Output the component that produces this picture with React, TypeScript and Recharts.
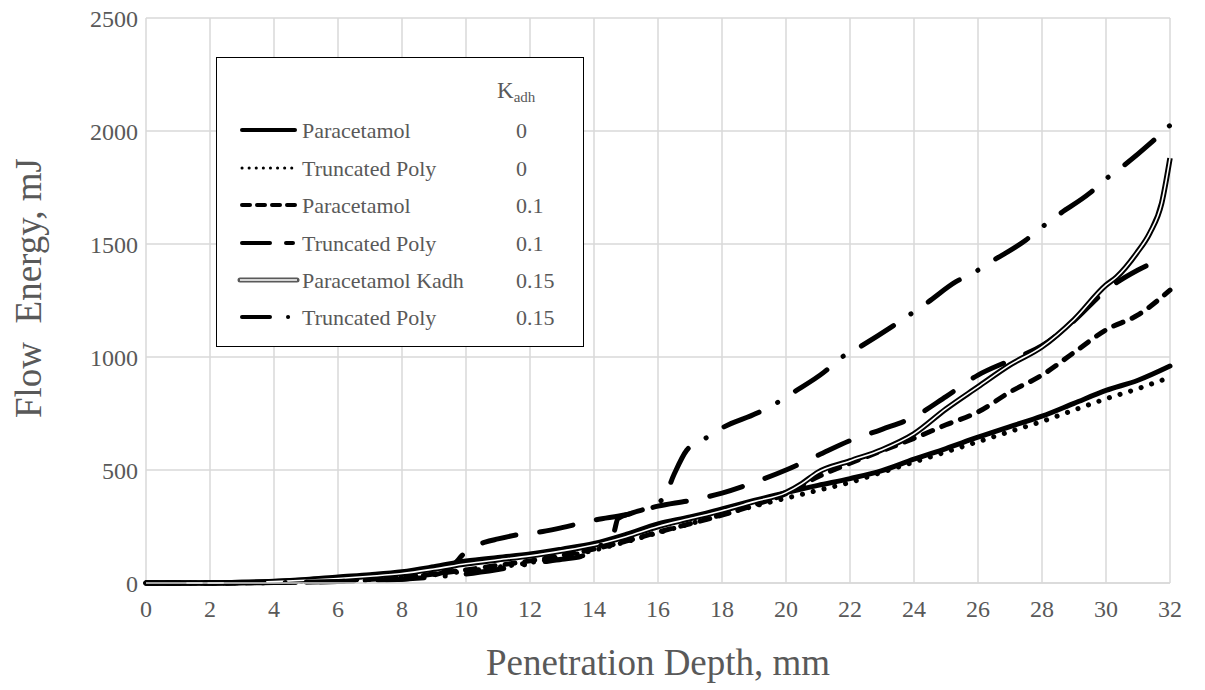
import React from 'react';
import { LineChart, Line, XAxis, YAxis, CartesianGrid } from 'recharts';

const FONT = '"Liberation Serif", "Times New Roman", serif';
const TEXT = '#595959';
const GRID = '#d9d9d9';

// Axis ticks
const depthTicks = [0, 2, 4, 6, 8, 10, 12, 14, 16, 18, 20, 22, 24, 26, 28, 30, 32];
const energyTicks = [0, 500, 1000, 1500, 2000, 2500];

// Paracetamol, Kadh = 0
const paracetamol0Depth = [0, 1, 2, 3, 4, 5, 6, 7, 8, 9, 10, 11, 12, 13, 14, 15, 16, 17, 18, 19, 20, 21, 22, 23, 24, 25, 26, 27, 28, 29, 30, 31, 32];
const paracetamol0Energy = [0, 0, 1, 3, 8, 16, 27, 37, 50, 72, 97, 113, 128, 150, 175, 215, 262, 292, 328, 365, 400, 432, 462, 497, 548, 595, 645, 692, 738, 795, 852, 897, 960];

// Truncated Poly, Kadh = 0
const truncPoly0Depth = [0, 1, 2, 3, 4, 5, 6, 7, 8, 9, 10, 11, 12, 13, 14, 15, 16, 17, 18, 19, 20, 21, 22, 23, 24, 25, 26, 27, 28, 29, 30, 31, 32];
const truncPoly0Energy = [0, 0, 0, 1, 3, 7, 12, 18, 26, 38, 52, 70, 90, 115, 145, 182, 222, 262, 302, 340, 375, 410, 445, 490, 535, 580, 625, 670, 715, 765, 815, 860, 910];

// Paracetamol, Kadh = 0.1
const paracetamol01Depth = [0, 1, 2, 3, 4, 5, 6, 7, 8, 9, 10, 11, 12, 13, 14, 15, 16, 17, 18, 19, 20, 21, 22, 23, 24, 25, 26, 27, 28, 29, 30, 31, 32];
const paracetamol01Energy = [0, 0, 0, 1, 3, 6, 10, 16, 25, 40, 58, 78, 98, 122, 150, 185, 225, 262, 300, 345, 395, 470, 530, 585, 640, 700, 757, 845, 920, 1020, 1120, 1186, 1296];

// Truncated Poly, Kadh = 0.1
const truncPoly01Depth = [0, 2, 3, 4, 5, 6, 7, 8, 9, 9.4, 10.1, 10.6, 11, 11.75, 12.4, 13, 13.6, 14, 15, 16, 17, 18, 19, 20, 21, 22, 23, 24, 25, 26, 27, 28, 29, 30, 31, 31.75];
const truncPoly01Energy = [0, 0, 1, 2, 4, 7, 11, 17, 35, 55, 150, 181, 195, 217, 228, 245, 265, 278, 302, 340, 365, 398, 445, 500, 565, 630, 680, 735, 825, 920, 985, 1050, 1160, 1295, 1385, 1435];

// Paracetamol Kadh = 0.15
const paracetamolKadhDepth = [0, 2, 3, 4, 5, 6, 7, 8, 9, 10, 11, 12, 13, 14, 15, 16, 17, 18, 19, 20, 20.5, 21, 22, 23, 24, 25, 26, 27, 28, 29, 30, 30.33, 30.96, 31.37, 31.74, 32];
const paracetamolKadhEnergy = [0, 0, 2, 6, 12, 20, 30, 42, 62, 85, 103, 120, 142, 168, 205, 250, 285, 320, 360, 400, 440, 490, 540, 590, 660, 770, 868, 965, 1045, 1165, 1318, 1354, 1460, 1549, 1681, 1880];

// Truncated Poly, Kadh = 0.15
const truncPoly015Depth = [0, 2, 3, 4, 5, 6, 7, 8, 9, 10, 11, 12, 13, 13.6, 14, 14.6, 14.75, 15.2, 16, 16.2, 16.5, 16.9, 17.4, 18, 19.1, 19.7, 20.2, 21.2, 21.7, 22.3, 23.3, 23.8, 24.4, 25.3, 25.9, 26.5, 27.5, 28, 28.5, 29.5, 30, 30.5, 31.4, 31.9, 32];
const truncPoly015Energy = [0, 0, 1, 2, 4, 7, 11, 17, 27, 40, 60, 85, 105, 118, 150, 215, 285, 310, 355, 380, 480, 588, 633, 686, 752, 796, 841, 934, 995, 1044, 1133, 1181, 1239, 1332, 1376, 1429, 1518, 1575, 1628, 1726, 1788, 1841, 1947, 2013, 2025];

const toPoints = (depth: number[], energy: number[]) =>
  depth.map((d, i) => ({ depth: d, energy: energy[i] }));

const LINE_W = 5;
const DOTTED = '0.1 11';
const SHORT_DASH = '10 10';
const LONG_DASH = '34 24';
const DASH_DOT = '38 21 0.1 21';

type Style = { dash?: string; legendDash?: string; double?: boolean };

const series: { name: string; kadh: string; depth: number[]; energy: number[]; style: Style }[] = [
  { name: 'Paracetamol', kadh: '0', depth: paracetamol0Depth, energy: paracetamol0Energy, style: {} },
  { name: 'Truncated Poly', kadh: '0', depth: truncPoly0Depth, energy: truncPoly0Energy, style: { dash: DOTTED, legendDash: '0.1 7' } },
  { name: 'Paracetamol', kadh: '0.1', depth: paracetamol01Depth, energy: paracetamol01Energy, style: { dash: SHORT_DASH, legendDash: '8 7' } },
  { name: 'Truncated Poly', kadh: '0.1', depth: truncPoly01Depth, energy: truncPoly01Energy, style: { dash: LONG_DASH, legendDash: '28 16 7 100' } },
  { name: 'Paracetamol Kadh', kadh: '0.15', depth: paracetamolKadhDepth, energy: paracetamolKadhEnergy, style: { double: true } },
  { name: 'Truncated Poly', kadh: '0.15', depth: truncPoly015Depth, energy: truncPoly015Energy, style: { dash: DASH_DOT, legendDash: '28 18 0.1 100' } },
];

const tickStyle = { fill: TEXT, fontSize: 24, fontFamily: FONT };

function LegendBox() {
  const x0 = 240;
  const x1 = 297;
  const rowY = [130, 168, 205, 243, 280, 317];
  return (
    <g>
      <rect x={216.5} y={57.5} width={367} height={289} fill="#fff" stroke="#000" strokeWidth={1} />
      <text x={497} y={98} fill={TEXT} fontFamily={FONT} fontSize={23}>
        K
        <tspan fontSize={15} dy={4}>adh</tspan>
      </text>
      {series.map((s, i) => {
        const y = rowY[i];
        return (
          <g key={i}>
            {s.style.double ? (
              <>
                <line x1={x0} y1={y} x2={x1} y2={y} stroke="#595959" strokeWidth={5} strokeLinecap="round" />
                <line x1={x0} y1={y} x2={x1} y2={y} stroke="#fff" strokeWidth={1.6} />
              </>
            ) : (
              <line
                x1={x0 + 2}
                y1={y}
                x2={x1 - 2}
                y2={y}
                stroke="#000"
                strokeWidth={s.style.dash === DOTTED ? 3 : 4}
                strokeDasharray={s.style.legendDash}
                strokeLinecap="round"
              />
            )}
            <text x={302} y={y + 7.5} fill={TEXT} fontFamily={FONT} fontSize={22}>
              {s.name}
            </text>
            <text x={516} y={y + 7.5} fill={TEXT} fontFamily={FONT} fontSize={22}>
              {s.kadh}
            </text>
          </g>
        );
      })}
    </g>
  );
}

export default function App() {
  return (
    <div style={{ position: 'absolute', left: 0, top: 0, width: 1205, height: 690, background: '#fff' }}>
      <LineChart width={1205} height={690} margin={{ top: 18, right: 35, left: 0, bottom: 67 }}>
        <CartesianGrid stroke={GRID} strokeWidth={1.5} />
        <XAxis
          type="number"
          dataKey="depth"
          domain={[0, 32]}
          ticks={depthTicks}
          interval={0}
          height={40}
          axisLine={{ stroke: GRID, strokeWidth: 1.5 }}
          tickLine={false}
          tickSize={0}
          tickMargin={17}
          tick={tickStyle}
          allowDuplicatedCategory={false}
        />
        <YAxis
          type="number"
          domain={[0, 2500]}
          ticks={energyTicks}
          interval={0}
          width={146}
          axisLine={false}
          tickLine={false}
          tickSize={0}
          tickMargin={8}
          tick={tickStyle}
        />
        {series.map((s, i) => {
          const data = toPoints(s.depth, s.energy);
          if (s.style.double) {
            return [
              <Line
                key={`o${i}`}
                data={data}
                dataKey="energy"
                type="monotone"
                stroke="#000"
                strokeWidth={5.5}
                dot={false}
                activeDot={false}
                isAnimationActive={false}
              />,
              <Line
                key={`w${i}`}
                data={data}
                dataKey="energy"
                type="monotone"
                stroke="#fff"
                strokeWidth={1.6}
                dot={false}
                activeDot={false}
                isAnimationActive={false}
              />,
            ];
          }
          return (
            <Line
              key={i}
              data={data}
              dataKey="energy"
              type="monotone"
              stroke="#000"
              strokeWidth={LINE_W}
              strokeDasharray={s.style.dash}
              strokeLinecap="round"
              dot={false}
              activeDot={false}
              isAnimationActive={false}
            />
          );
        })}
      </LineChart>
      <svg
        width={1205}
        height={690}
        style={{ position: 'absolute', left: 0, top: 0, pointerEvents: 'none' }}
      >
        <LegendBox />
        <text
          x={658}
          y={675}
          textAnchor="middle"
          fill={TEXT}
          fontFamily={FONT}
          fontSize={37}
        >
          Penetration Depth, mm
        </text>
        <text
          transform="translate(41, 288) rotate(-90)"
          textAnchor="middle"
          fill={TEXT}
          fontFamily={FONT}
          fontSize={37}
          style={{ whiteSpace: 'pre' }}
        >
          {'Flow  Energy, mJ'}
        </text>
      </svg>
    </div>
  );
}
